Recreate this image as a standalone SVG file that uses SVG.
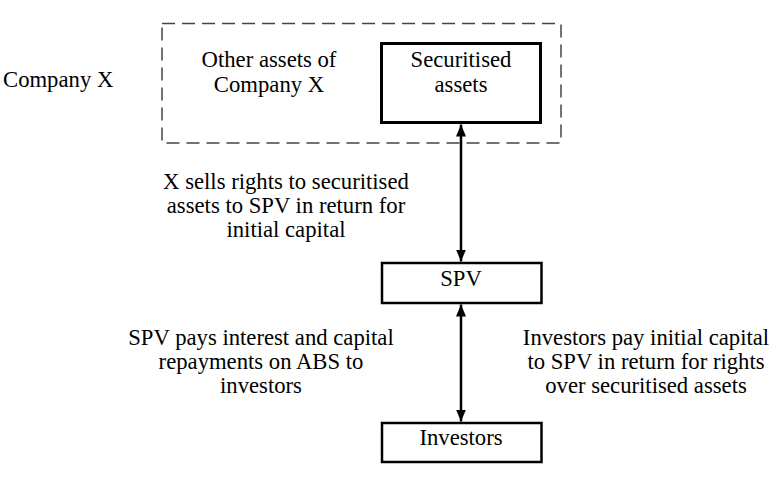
<svg xmlns="http://www.w3.org/2000/svg" width="782" height="478" viewBox="0 0 782 478">
<defs>
<style>
text{font-family:"Liberation Serif","Times New Roman",serif;font-size:22.7px;fill:#000;text-anchor:middle}
.box{fill:#fff;stroke:#000}
.conn{stroke:#000;stroke-width:2.5;fill:none}
</style>
<marker id="ah" viewBox="0 0 12 10" refX="12" refY="5" markerWidth="12" markerHeight="10" markerUnits="userSpaceOnUse" orient="auto-start-reverse">
<path d="M0,0 L12,5 L0,10 Z" fill="#000"/>
</marker>
</defs>
<rect width="782" height="478" fill="#fff"/>
<g id="company-x">
<rect x="162" y="23.5" width="399" height="119.5" fill="none" stroke="#444" stroke-width="1.5" stroke-dasharray="13 7"/>
<text x="3" y="87" style="text-anchor:start">Company X</text>
</g>
<g id="other-assets">
<text x="269" y="67">Other assets of</text>
<text x="269" y="92">Company X</text>
</g>
<g id="securitised-assets">
<rect class="box" x="381.5" y="43.5" width="159" height="79" stroke-width="3"/>
<text x="461" y="67">Securitised</text>
<text x="461" y="92">assets</text>
</g>
<g id="spv">
<rect class="box" x="382" y="263" width="159.5" height="40" stroke-width="2.5"/>
<text x="461" y="286">SPV</text>
</g>
<g id="investors">
<rect class="box" x="382" y="423" width="159.5" height="39" stroke-width="2.5"/>
<text x="461" y="445">Investors</text>
</g>
<g id="connectors">
<line class="conn" x1="461" y1="124.5" x2="461" y2="261.5" marker-start="url(#ah)" marker-end="url(#ah)"/>
<line class="conn" x1="461" y1="304.5" x2="461" y2="421.5" marker-start="url(#ah)" marker-end="url(#ah)"/>
</g>
<g id="labels">
<text x="286" y="189">X sells rights to securitised</text>
<text x="286" y="213">assets to SPV in return for</text>
<text x="286" y="237">initial capital</text>
<text x="261" y="345">SPV pays interest and capital</text>
<text x="261" y="369">repayments on ABS to</text>
<text x="261" y="393">investors</text>
<text x="646" y="345">Investors pay initial capital</text>
<text x="646" y="369">to SPV in return for rights</text>
<text x="646" y="393">over securitised assets</text>
</g>
</svg>
